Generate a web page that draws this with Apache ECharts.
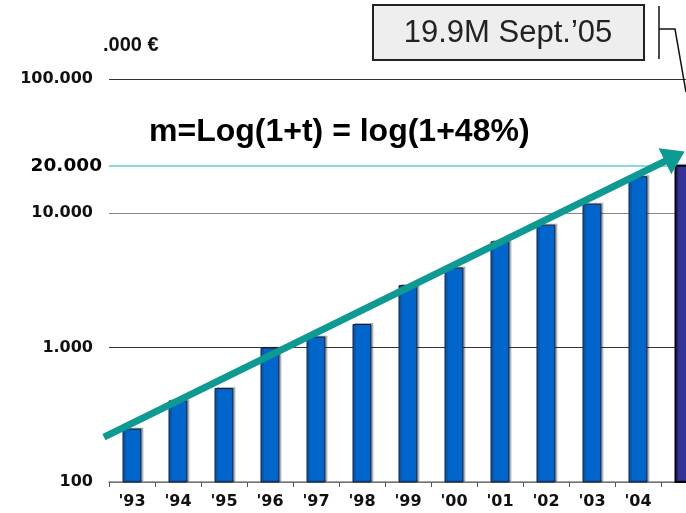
<!DOCTYPE html>
<html>
<head>
<meta charset="utf-8">
<script src="https://cdn.jsdelivr.net/npm/echarts@6/dist/echarts.min.js"></script>
<style>
html,body{margin:0;padding:0;background:#fff;}
#chart{width:686px;height:513px;}
</style>
</head>
<body>
<div id="chart"></div>
<script>
// ---- data ----
const years = ["'93","'94","'95","'96","'97","'98","'99","'00","'01","'02","'03","'04","'05"];
const values = [250, 405, 500, 1000, 1210, 1500, 2920, 3950, 6190, 8240, 11800, 18900, 23000];
const yTicks = [100, 1000, 10000, 100000];
const refLineValue = 22470;     // teal "20.000" reference line
const refLineLabel = '20.000';
const trendStart = [-0.11, 216];   // [year index offset, value]
const trendEnd = [12.30, 26550];
const unitLabel = '.000 €';
const slopeText = 'm=Log(1+t) = log(1+48%)';
const calloutText = '19.9M Sept.\u201905';

const chart = echarts.init(document.getElementById('chart'), null, {renderer: 'canvas'});

function fmtThousands(v) {
  return String(Math.round(v)).replace(/\B(?=(\d{3})+(?!\d))/g, '.');
}

const barData = values.map((v, i) => {
  if (i === values.length - 1) {
    return {value: v, itemStyle: {color: '#333399', borderColor: '#000', borderWidth: 2}};
  }
  return v;
});

const option = {
  animation: false,
  backgroundColor: '#ffffff',
  grid: [
    {left: 109, top: 79, width: 598, height: 403, containLabel: false, outerBoundsMode: 'none'},
    {left: 63, top: 79, width: 644, height: 403, containLabel: false, outerBoundsMode: 'none'}
  ],
  xAxis: [
    {
      type: 'category', gridIndex: 0, data: years, boundaryGap: true,
      axisLine: {show: true, lineStyle: {color: '#888', width: 1.5}},
      axisTick: {show: true, length: 5, lineStyle: {color: '#555'}},
      axisLabel: {
        margin: 12, color: '#111', fontFamily: 'DejaVu Sans', fontWeight: 'bold', fontSize: 16,
        formatter: (v, i) => (i === years.length - 1 ? '' : v)
      },
      splitLine: {show: false}
    },
    {type: 'value', gridIndex: 1, min: -1, max: 13, show: false}
  ],
  yAxis: [
    {
      type: 'log', gridIndex: 0, logBase: 10, min: yTicks[0], max: yTicks[yTicks.length - 1],
      axisLine: {show: false}, axisTick: {show: false},
      axisLabel: {
        margin: 16, color: '#111', fontFamily: 'DejaVu Sans', fontWeight: 'bold', fontSize: 16,
        formatter: v => fmtThousands(v)
      },
      splitLine: {show: true, lineStyle: {color: ['#333', '#333', '#888', '#333'], width: 1.2}}
    },
    {type: 'log', gridIndex: 1, logBase: 10, min: yTicks[0], max: yTicks[yTicks.length - 1], show: false}
  ],
  series: [
    {
      type: 'bar', xAxisIndex: 0, yAxisIndex: 0, data: barData, barWidth: 19, z: 3,
      itemStyle: {
        color: '#0066CC', borderColor: '#1a1a2a', borderWidth: 1,
        shadowColor: 'rgba(0,0,0,0.22)', shadowOffsetX: 2, shadowOffsetY: -1, shadowBlur: 0
      },
      emphasis: {disabled: true},
      markLine: {
        silent: true, z: 1, symbol: ['none', 'none'],
        lineStyle: {color: '#66CCCC', width: 1.5, type: 'solid'},
        label: {
          show: true, position: 'start', distance: 7, formatter: refLineLabel,
          color: '#000', fontFamily: 'DejaVu Sans', fontWeight: 'bold', fontSize: 18.5
        },
        data: [{yAxis: refLineValue}]
      }
    },
    {
      type: 'line', xAxisIndex: 1, yAxisIndex: 1, data: [], z: 6,
      markLine: {
        silent: true, z: 6,
        symbol: ['none', 'triangle'], symbolSize: [29, 22],
        lineStyle: {color: '#0D9A92', width: 7, type: 'solid', cap: 'butt'},
        itemStyle: {color: '#0D9A92'},
        label: {show: false},
        emphasis: {disabled: true},
        data: [[
          {coord: trendStart},
          {coord: trendEnd}
        ]]
      }
    }
  ],
  graphic: [
    {
      type: 'rect', z: 10,
      shape: {x: 373, y: 5, width: 271, height: 55},
      style: {fill: '#EEEEEE', stroke: '#222', lineWidth: 2}
    },
    {
      type: 'text', z: 11, x: 508, y: 33,
      style: {
        text: calloutText, fill: '#222', font: '31px "Liberation Sans", Arial, sans-serif',
        textAlign: 'center', textVerticalAlign: 'middle'
      }
    },
    {
      type: 'polyline', z: 10,
      shape: {points: [[659, 6], [659, 59]]},
      style: {stroke: '#111', lineWidth: 1.5, fill: null}
    },
    {
      type: 'polyline', z: 10,
      shape: {points: [[659, 29], [675, 29], [686, 92]]},
      style: {stroke: '#111', lineWidth: 1.5, fill: null}
    },
    {
      type: 'text', z: 10, x: 103, y: 45,
      style: {
        text: unitLabel, fill: '#111', font: 'bold 20px "Liberation Sans", Arial, sans-serif',
        textAlign: 'left', textVerticalAlign: 'middle'
      }
    },
    {
      type: 'text', z: 10, x: 149, y: 132,
      style: {
        text: slopeText, fill: '#000', font: 'bold 32px "Liberation Sans", Arial, sans-serif',
        textAlign: 'left', textVerticalAlign: 'middle'
      }
    }
  ]
};
chart.setOption(option);
</script>
</body>
</html>
